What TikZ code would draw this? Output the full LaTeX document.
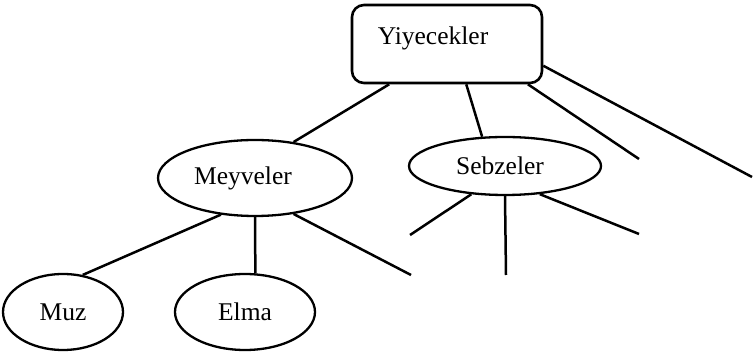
\documentclass[tikz,border=0pt]{standalone}
\usepackage{fontspec}
\setmainfont{Liberation Serif}
\usetikzlibrary{shapes.geometric,calc}

\tikzset{
  kutu/.style={draw, line width=2.6pt, rounded corners=12pt, inner sep=0pt,
    minimum width=190pt, minimum height=78pt},
  oval/.style={draw, ellipse, line width=2.3pt, inner sep=0pt},
  dal/.style={line width=2.5pt}
}

\begin{document}
\begin{tikzpicture}[x=1pt, y=-1pt, font=\fontsize{25.5}{30}\selectfont]
        \useasboundingbox (0,0) rectangle (753,352);

        % Root box
        \node[kutu] (yiy) at (447,44) {};
        \node (yiytext) at (433,38) {Yiyecekler};

        % Second level
        \node[oval, minimum width=194pt, minimum height=76pt] (mey) at (255,178) {Meyveler\hspace*{24pt}};
        \node[oval, minimum width=192pt, minimum height=58pt] (seb) at (505,166) {Sebzeler\hspace*{10pt}};

        % Third level
        \node[oval, minimum width=120pt, minimum height=76pt] (muz) at (63,312) {Muz};
        \node[oval, minimum width=140pt, minimum height=76pt] (elma) at (245,312) {Elma};

        % Open ends
        \coordinate (yiyuc) at (639,159);
        \coordinate (yiydort) at (752,177);
        \coordinate (meyuc) at (411,275);
        \coordinate (sebbir) at (410,235);
        \coordinate (sebiki) at (506,275);
        \coordinate (sebuc) at (639,234);

        % Branches from the root
        \draw[dal] ($(yiy.south west)!0.2!(yiy.south east)$) -- (mey.43);
        \draw[dal] ($(yiy.south west)!0.6!(yiy.south east)$) -- (seb.128);
        \draw[dal] ($(yiy.south west)!0.92!(yiy.south east)$) -- (yiyuc);
        \draw[dal] ($(yiy.north east)!0.77!(yiy.south east)$) -- (yiydort);

        % Branches from Meyveler
        \draw[dal] (mey.227) -- (muz.62);
        \draw[dal] (mey.south) -- (elma.75);
        \draw[dal] (mey.-43) -- (meyuc);

        % Branches from Sebzeler
        \draw[dal] (seb.220) -- (sebbir);
        \draw[dal] (seb.south) -- (sebiki);
        \draw[dal] (seb.-39) -- (sebuc);
\end{tikzpicture}
\end{document}
